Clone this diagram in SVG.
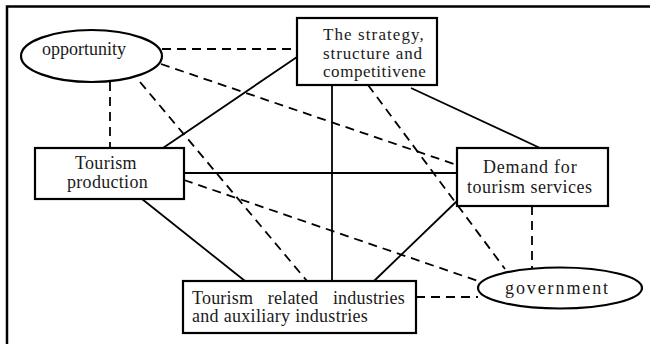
<svg xmlns="http://www.w3.org/2000/svg" width="650" height="344" viewBox="0 0 650 344">
<style>
.box{fill:#fff;stroke:#000;stroke-width:2.2}
.s{stroke:#000;stroke-width:1.8;fill:none}
.d{stroke:#000;stroke-width:1.8;fill:none;stroke-dasharray:9 6}
</style>
<rect width="650" height="344" fill="#fff"/>
<path d="M7,344 V6.5 H650" fill="none" stroke="#000" stroke-width="2.5"/>
<g id="connectors">
<line class="d" x1="162" y1="49" x2="297" y2="49"/>
<line class="d" x1="110" y1="82" x2="110" y2="148"/>
<line class="d" x1="161" y1="64" x2="457" y2="165"/>
<line class="d" x1="140" y1="82" x2="307" y2="281"/>
<line class="s" x1="297" y1="57" x2="163" y2="148"/>
<line class="s" x1="332" y1="85" x2="332" y2="281"/>
<line class="s" x1="411" y1="88" x2="540" y2="148"/>
<line class="d" x1="368" y1="85" x2="505" y2="269"/>
<line class="s" x1="184" y1="173" x2="457" y2="173"/>
<line class="d" x1="184" y1="180" x2="478" y2="281"/>
<line class="s" x1="142" y1="199" x2="245" y2="281"/>
<line class="s" x1="374" y1="281" x2="457" y2="201"/>
<line class="d" x1="416" y1="297" x2="478" y2="297"/>
<line class="d" x1="532" y1="206" x2="532" y2="268"/>
</g>
<g id="opportunity">
<ellipse class="box" cx="91.5" cy="56" rx="70.5" ry="26"/>
<text font-family="Liberation Serif" font-size="18" fill="#1a1a1a" x="42" y="55">opportunity</text>
</g>
<g id="strategy">
<rect class="box" x="297" y="18" width="140" height="67"/>
<text font-family="Liberation Serif" font-size="17" fill="#1a1a1a" x="323" y="40" letter-spacing="1.1">The strategy,</text>
<text font-family="Liberation Serif" font-size="17" fill="#1a1a1a" x="323" y="58.5" letter-spacing="0.9">structure and</text>
<text font-family="Liberation Serif" font-size="17" fill="#1a1a1a" x="323" y="77" letter-spacing="0.55">competitivene</text>
</g>
<g id="tourism-production">
<rect class="box" x="35" y="148" width="149" height="51"/>
<text font-family="Liberation Serif" font-size="18" fill="#1a1a1a" x="75" y="169" letter-spacing="0.3">Tourism</text>
<text font-family="Liberation Serif" font-size="18" fill="#1a1a1a" x="67" y="188" letter-spacing="0.3">production</text>
</g>
<g id="demand">
<rect class="box" x="457" y="148" width="151" height="58"/>
<text font-family="Liberation Serif" font-size="18" fill="#1a1a1a" x="483" y="173" letter-spacing="0.8">Demand for</text>
<text font-family="Liberation Serif" font-size="18" fill="#1a1a1a" x="467" y="193" letter-spacing="0.5">tourism services</text>
</g>
<g id="tourism-related">
<rect class="box" x="183" y="281" width="233" height="52"/>
<text font-family="Liberation Serif" font-size="18" fill="#1a1a1a" x="192" y="304" letter-spacing="0.2" word-spacing="10">Tourism related industries</text>
<text font-family="Liberation Serif" font-size="18" fill="#1a1a1a" x="192" y="322" letter-spacing="0.3">and auxiliary industries</text>
</g>
<g id="government">
<ellipse class="box" cx="560" cy="288" rx="82" ry="20.5"/>
<text font-family="Liberation Serif" font-size="18" fill="#1a1a1a" x="505" y="294" letter-spacing="1.9">government</text>
</g>
</svg>
